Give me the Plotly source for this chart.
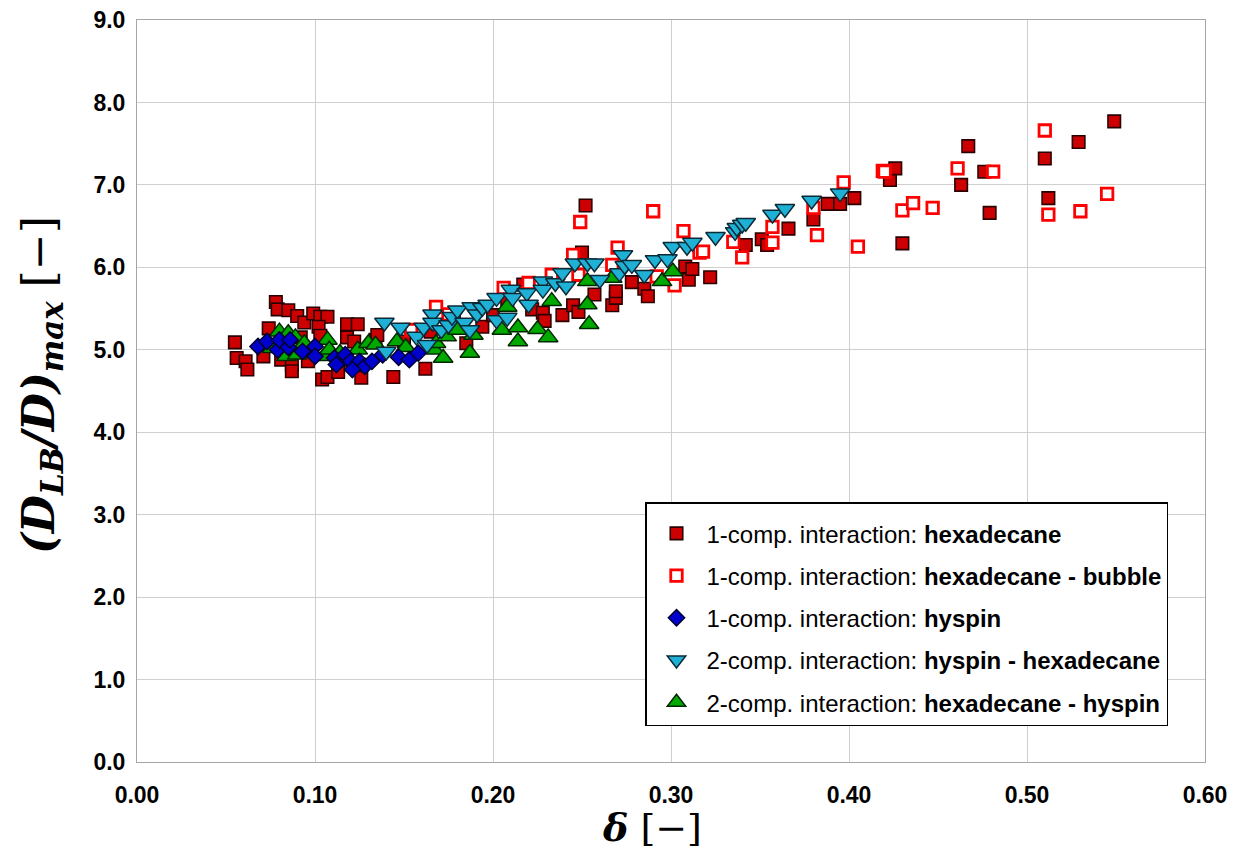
import plotly.graph_objects as go

# ---------------- data ----------------
hex_x = [0.055, 0.056, 0.061, 0.062, 0.078, 0.079, 0.085, 0.090, 0.094, 0.099,
         0.103, 0.107, 0.102, 0.103, 0.074, 0.071, 0.081, 0.087, 0.087, 0.096,
         0.104, 0.107, 0.113, 0.118, 0.124, 0.118, 0.122, 0.126, 0.134, 0.092,
         0.144, 0.162, 0.185, 0.194, 0.217, 0.114, 0.135, 0.150, 0.165, 0.178,
         0.200, 0.208,
         0.222, 0.228, 0.229, 0.239, 0.245, 0.248, 0.250, 0.252, 0.257, 0.267,
         0.269, 0.269, 0.278, 0.285, 0.287, 0.308, 0.310, 0.312, 0.322, 0.342,
         0.351, 0.354, 0.366, 0.380, 0.388, 0.395, 0.403, 0.423, 0.426, 0.430,
         0.463, 0.467, 0.476, 0.479, 0.510, 0.512, 0.529, 0.549]
hex_y = [5.09, 4.90, 4.86, 4.76, 5.58, 5.49, 5.48, 5.41, 5.33, 5.44,
         5.40, 5.40, 5.28, 5.17, 5.26, 4.92, 4.88, 4.82, 4.74, 4.86,
         4.64, 4.67, 4.73, 5.31, 5.31, 5.15, 5.10, 4.66, 5.12, 5.15,
         4.67, 4.77, 5.08, 5.28, 5.79, 4.88, 5.18, 5.10, 5.22, 5.35,
         5.42, 5.58,
         5.49, 5.45, 5.35, 5.42, 5.54, 5.46, 6.18, 6.75, 5.67, 5.54,
         5.63, 5.71, 5.82, 5.74, 5.65, 6.01, 5.85, 5.98, 5.88, 6.27,
         6.34, 6.27, 6.47, 6.58, 6.77, 6.77, 6.84, 7.06, 7.20, 6.29,
         7.00, 7.47, 7.16, 6.66, 7.32, 6.84, 7.52, 7.77]

bub_x = [0.154, 0.168, 0.175, 0.206, 0.220, 0.233, 0.245, 0.248, 0.249, 0.267,
         0.270, 0.290, 0.292, 0.302, 0.307, 0.316, 0.318, 0.335, 0.340, 0.357,
         0.357, 0.380, 0.382, 0.397, 0.405, 0.419, 0.420, 0.430, 0.436, 0.447,
         0.461, 0.481, 0.510, 0.512, 0.530, 0.545]
bub_y = [5.24, 5.52, 5.43, 5.75, 5.81, 5.91, 6.15, 5.91, 6.55, 6.03,
         6.24, 6.68, 5.89, 5.78, 6.44, 6.18, 6.19, 6.31, 6.12, 6.49,
         6.30, 6.72, 6.39, 7.03, 6.25, 7.17, 7.16, 6.69, 6.78, 6.72,
         7.20, 7.16, 7.66, 6.64, 6.68, 6.89]

hys_x = [0.068, 0.073, 0.079, 0.080, 0.085, 0.086, 0.093, 0.100, 0.100, 0.111,
         0.112, 0.117, 0.120, 0.125, 0.128, 0.132, 0.121, 0.138, 0.147, 0.153,
         0.158]
hys_y = [5.04, 5.10, 5.00, 5.12, 5.03, 5.12, 4.98, 5.04, 4.92, 4.90,
         4.82, 4.94, 4.86, 4.86, 4.80, 4.86, 4.76, 4.94, 4.91, 4.88,
         4.96]

hh_x = [0.139, 0.140, 0.148, 0.157, 0.161, 0.163, 0.166, 0.166, 0.171, 0.175,
        0.177, 0.180, 0.184, 0.187, 0.188, 0.191, 0.194, 0.197, 0.202, 0.202,
        0.208, 0.210, 0.211, 0.219, 0.220, 0.228, 0.228, 0.235, 0.239, 0.241,
        0.246, 0.253, 0.257, 0.260, 0.271, 0.273, 0.274, 0.278, 0.285, 0.291,
        0.298, 0.301, 0.309, 0.312, 0.325, 0.336, 0.337, 0.340, 0.342, 0.357,
        0.364, 0.379, 0.395]
hh_y = [5.33, 4.98, 5.27, 5.16, 5.27, 5.06, 5.43, 5.33, 5.24, 5.30,
        5.40, 5.48, 5.33, 5.24, 5.52, 5.43, 5.51, 5.55, 5.63, 5.36,
        5.39, 5.73, 5.63, 5.69, 5.55, 5.83, 5.73, 5.81, 5.93, 5.77,
        6.05, 6.05, 6.05, 5.85, 5.93, 6.15, 6.02, 6.03, 5.91, 6.09,
        6.10, 6.25, 6.25, 6.30, 6.37, 6.43, 6.48, 6.52, 6.54, 6.64,
        6.71, 6.81, 6.90]

hxh_x = [0.076, 0.080, 0.084, 0.085, 0.089, 0.090, 0.094, 0.105, 0.107, 0.108,
         0.114, 0.124, 0.130, 0.134, 0.146, 0.151, 0.167, 0.168, 0.172, 0.174,
         0.180, 0.187, 0.189, 0.205, 0.208, 0.214, 0.214, 0.225, 0.231, 0.233,
         0.253, 0.253, 0.254, 0.267, 0.295, 0.301]
hxh_y = [5.02, 5.22, 4.92, 5.20, 5.15, 4.94, 5.08, 4.92, 5.12, 5.00,
         4.96, 5.00, 5.08, 5.06, 5.10, 5.03, 5.00, 5.08, 4.90, 5.16,
         5.24, 4.96, 5.18, 5.24, 5.52, 5.27, 5.10, 5.25, 5.15, 5.59,
         5.55, 5.83, 5.31, 5.87, 5.83, 5.95]

x_ticks = [0.0, 0.1, 0.2, 0.3, 0.4, 0.5, 0.6]
y_ticks = [0, 1, 2, 3, 4, 5, 6, 7, 8, 9]

names = ["1-comp. interaction: <b>hexadecane</b>",
         "1-comp. interaction: <b>hexadecane - bubble</b>",
         "1-comp. interaction: <b>hyspin</b>",
         "2-comp. interaction: <b>hyspin - hexadecane</b>",
         "2-comp. interaction: <b>hexadecane - hyspin</b>"]

x_title = "<b><i>δ</i></b> [−]"
y_title = "<b><i>(D<sub>LB</sub>/D)<sub>max</sub></i></b> [−]"

# ---------------- figure ----------------
fig = go.Figure()

fig.add_trace(go.Scatter(x=hex_x, y=hex_y, mode="markers", name=names[0],
                         legendrank=1, legendgroup="a",
                         marker=dict(symbol="square", size=12.5, color="#CC0000",
                                     line=dict(color="#2A0000", width=1.6))))
fig.add_trace(go.Scatter(x=bub_x, y=bub_y, mode="markers", name=names[1],
                         legendrank=2, legendgroup="b",
                         marker=dict(symbol="square", size=11.5, color="white",
                                     line=dict(color="#FF0000", width=2.8))))
fig.add_trace(go.Scatter(x=hxh_x, y=hxh_y, mode="markers", name=names[4],
                         legendrank=5, legendgroup="e",
                         marker=dict(symbol="triangle-up", size=17, color="#00A800",
                                     line=dict(color="#002800", width=1.5))))
fig.add_trace(go.Scatter(x=hys_x, y=hys_y, mode="markers", name=names[2],
                         legendrank=3, legendgroup="c",
                         marker=dict(symbol="diamond", size=12.5, color="#0000CC",
                                     line=dict(color="#000030", width=1.5))))
fig.add_trace(go.Scatter(x=hh_x, y=hh_y, mode="markers", name=names[3],
                         legendrank=4, legendgroup="d",
                         marker=dict(symbol="triangle-down", size=17, color="#1FB0D6",
                                     line=dict(color="#0C2A36", width=1.5))))

axis_font = dict(family="Liberation Sans, Arial, sans-serif", size=23,
                 color="black", weight="bold")
title_font = dict(family="DejaVu Serif, serif", color="black")

# body margin removed below, so plot area sits at page px 137..1205 x 20..762
fig.update_layout(
    width=1243, height=856,
    margin=dict(l=137, r=38, t=20, b=94, autoexpand=False),
    paper_bgcolor="white", plot_bgcolor="white",
    showlegend=True,
    legend=dict(x=(645 - 137) / 1068, y=(762 - 502) / 742,
                xanchor="left", yanchor="top",
                bgcolor="white", bordercolor="black", borderwidth=1.5,
                font=dict(family="Liberation Sans, Arial, sans-serif", size=24, color="black"),
                title=dict(text=" ", font=dict(size=6)),
                tracegroupgap=8, itemwidth=50,
                traceorder="grouped"),
    xaxis=dict(range=[0, 0.6], tickvals=x_ticks, tickformat=".2f",
               showgrid=True, gridcolor="#CFCFCF", gridwidth=1,
               showline=True, linecolor="#A6A6A6", linewidth=1, mirror=True,
               zeroline=False, tickfont=axis_font, ticklabelstandoff=12,
               automargin=False),
    yaxis=dict(range=[0, 9], tickvals=y_ticks, tickformat=".1f",
               showgrid=True, gridcolor="#CFCFCF", gridwidth=1,
               showline=True, linecolor="#A6A6A6", linewidth=1, mirror=True,
               zeroline=False, tickfont=axis_font, ticklabelstandoff=6,
               ticklabeloverflow="allow", automargin=False),
    annotations=[
        dict(text=x_title, xref="paper", yref="paper",
             x=(652 - 137) / 1068, y=(762 - 827) / 742,
             xanchor="center", yanchor="middle", showarrow=False,
             font=dict(size=38, **title_font)),
        dict(text=y_title, xref="paper", yref="paper", textangle=-90,
             x=(41 - 137) / 1068, y=(762 - 385) / 742,
             xanchor="center", yanchor="middle", showarrow=False,
             font=dict(size=44, **title_font)),
    ],
)

fig.write_html("out.html", config={"displayModeBar": False},
               post_script="document.body.style.margin='0';document.body.style.overflow='hidden';")
